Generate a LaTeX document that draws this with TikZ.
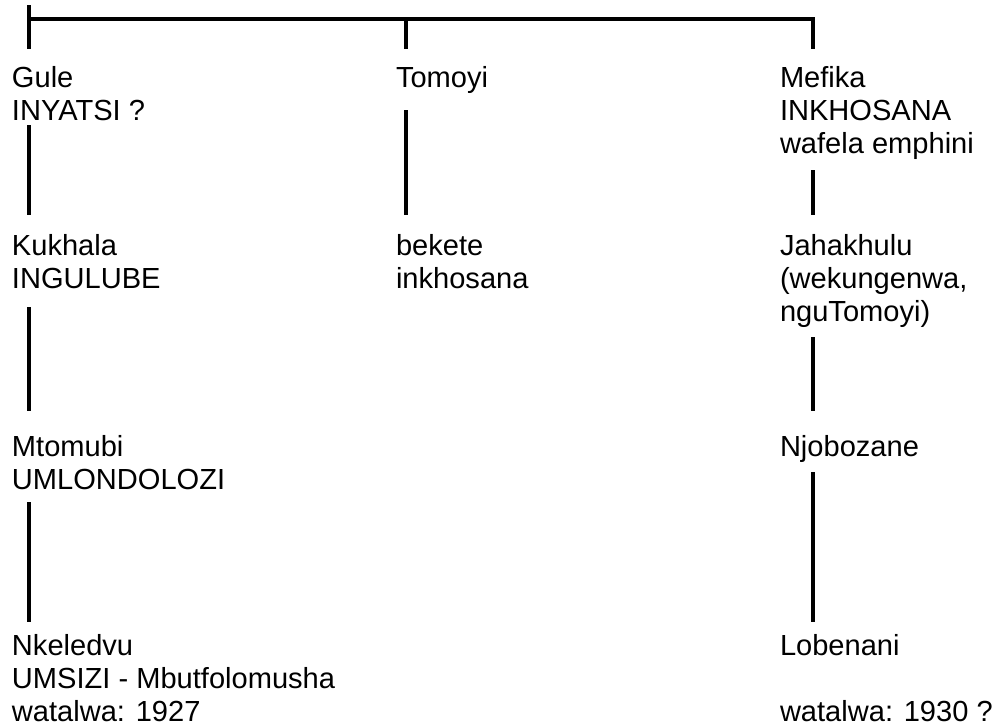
\documentclass[tikz,border=0pt]{standalone}
\usepackage{fontspec}
\setmainfont{Liberation Sans}
\newcommand{\personlines}[1]{\begin{tabular}[t]{@{}l@{}}#1\end{tabular}}
\begin{document}
\begin{tikzpicture}[x=0.75pt,y=-0.75pt,
  person/.style={anchor=base west,inner sep=0pt,outer sep=0pt,
    font=\fontsize{21.8pt}{25pt}\selectfont},
  link/.style={line width=2.3pt,black}]
\useasboundingbox (0,0) rectangle (995,726);
% people
\node[person] (gule) at (12,87) {\personlines{Gule\\INYATSI ?}};
\node[person] (tomoyi) at (396,87) {\personlines{Tomoyi}};
\node[person] (mefika) at (780,87) {\personlines{Mefika\\INKHOSANA\\wafela emphini}};
\node[person] (kukhala) at (12,255) {\personlines{Kukhala\\INGULUBE}};
\node[person] (bekete) at (396,255) {\personlines{bekete\\inkhosana}};
\node[person] (jahakhulu) at (780,255) {\personlines{Jahakhulu\\(wekungenwa,\\nguTomoyi)}};
\node[person] (mtomubi) at (12,456) {\personlines{Mtomubi\\UMLONDOLOZI}};
\node[person] (njobozane) at (780,456) {\personlines{Njobozane}};
\node[person] (nkeledvu) at (12,655) {\personlines{Nkeledvu\\UMSIZI - Mbutfolomusha\\watalwa: 1927}};
\node[person] (lobenani) at (780,655) {\personlines{Lobenani\\ \\watalwa: 1930 ?}};
% top bracket
\coordinate (tl0) at (29,5);
\coordinate (tl) at (29,19);
\coordinate (tlb) at (29,49);
\coordinate (tm) at (406,19);
\coordinate (tmb) at (406,49);
\coordinate (tr) at (813,19);
\coordinate (trb) at (813,49);
\draw[link] (tl0) -- (tlb);
\draw[link] (tl) -- (tr) -- (trb);
\draw[link] (tm) -- (tmb);
% left column
\coordinate (l1a) at (29,125); \coordinate (l1b) at (29,215);
\coordinate (l2a) at (29,307); \coordinate (l2b) at (29,411);
\coordinate (l3a) at (29,502); \coordinate (l3b) at (29,622);
\draw[link] (l1a) -- (l1b);
\draw[link] (l2a) -- (l2b);
\draw[link] (l3a) -- (l3b);
% middle column
\coordinate (m1a) at (406,110); \coordinate (m1b) at (406,215);
\draw[link] (m1a) -- (m1b);
% right column
\coordinate (r1a) at (813,170); \coordinate (r1b) at (813,215);
\coordinate (r2a) at (813,337); \coordinate (r2b) at (813,411);
\coordinate (r3a) at (813,472); \coordinate (r3b) at (813,622);
\draw[link] (r1a) -- (r1b);
\draw[link] (r2a) -- (r2b);
\draw[link] (r3a) -- (r3b);
\end{tikzpicture}
\end{document}
